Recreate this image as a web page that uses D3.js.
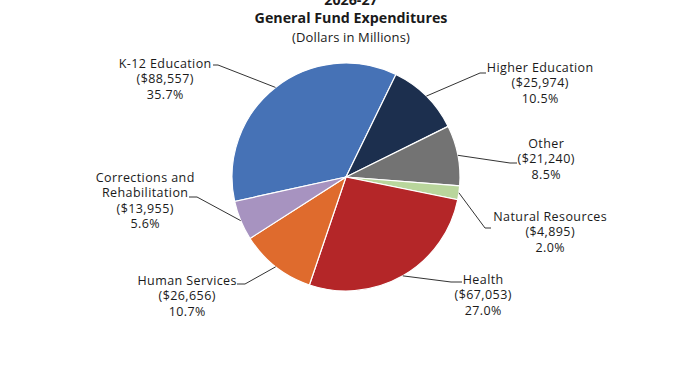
<!DOCTYPE html>
<html><head><meta charset="utf-8">
<script src="https://cdn.jsdelivr.net/npm/d3@7"></script>
<style>
html,body{margin:0;padding:0;background:#fff;}
svg{display:block;}
text{font-family:"Open Sans",sans-serif;fill:#1a1a1a;}
</style></head>
<body>
<script>
// ---- data ----
const categories = ["K-12 Education","Higher Education","Other","Natural Resources","Health","Human Services","Corrections and Rehabilitation"];
const values = [88557, 25974, 21240, 4895, 67053, 26656, 13955];
const percentLabels = ["35.7%","10.5%","8.5%","2.0%","27.0%","10.7%","5.6%"];
const titleLines = ["2026-27","General Fund Expenditures","(Dollars in Millions)"];

// ---- layout / style ----
const W = 700, H = 368;
const cx = 346, cy = 177, R = 114;
const colors = ["#4672b6","#1c2f4e","#737373","#b9d69c","#b42628","#df6b2d","#a793c0"];
const startDeg = -102.4;
const labelLayout = [
  {lines:["K-12 Education"], x:165, y:63, p0:[213,65], p1:[218,65]},
  {lines:["Higher Education"], x:540, y:67, p0:[486,73], p1:[480,73]},
  {lines:["Other"], x:546, y:143, p0:[517,163], p1:[510,163]},
  {lines:["Natural Resources"], x:550, y:216, p0:[491,228], p1:[485,228]},
  {lines:["Health"], x:483, y:279, p0:[462,282], p1:[451,282]},
  {lines:["Human Services"], x:187, y:280, p0:[237,284], p1:[245,284]},
  {lines:["Corrections and","Rehabilitation"], x:145, y:177, p0:[189,197], p1:[197,197]}
];
const lineH = 15.6;
const labelSize = 12.5;
const fmt = d3.format(",");

const svg = d3.select("body").append("svg").attr("width",W).attr("height",H);

function measure(str, weight, size){
  const t = svg.append("text").style("font-size",size+"px").style("font-weight",weight).text(str);
  const w = t.node().getComputedTextLength();
  t.remove();
  return w;
}
// letter spacing so sample strings reach the reference widths
const labelLS = (93 - measure("K-12 Education","normal",labelSize)) / 14;
const titleSize = 15 * 193 / measure("General Fund Expenditures","bold",15);
const subLS = (118 - measure("(Dollars in Millions)","normal",13)) / 21;

// title
const title = svg.append("g");
title.append("text").attr("x",351).attr("y",5).attr("text-anchor","middle")
  .style("font-weight","bold").style("font-size",titleSize+"px").text(titleLines[0]);
title.append("text").attr("x",351).attr("y",23).attr("text-anchor","middle")
  .style("font-weight","bold").style("font-size",titleSize+"px").text(titleLines[1]);
title.append("text").attr("x",351).attr("y",42).attr("text-anchor","middle")
  .style("font-size","13px").style("letter-spacing",subLS+"px").text(titleLines[2]);

const data = categories.map((c,i)=>({cat:c, value:values[i], pct:percentLabels[i], i}));
const start = startDeg*Math.PI/180;
const pie = d3.pie().value(d=>d.value).sort(null).startAngle(start).endAngle(start+2*Math.PI);
const arcs = pie(data);
const arc = d3.arc().innerRadius(0).outerRadius(R);

const g = svg.append("g").attr("transform",`translate(${cx},${cy})`);
g.selectAll("path").data(arcs).join("path")
  .attr("d",arc).attr("fill",d=>colors[d.data.i])
  .attr("stroke","#fff").attr("stroke-width",1.2);

// leader lines
const line = d3.line();
arcs.forEach(a=>{
  const L = labelLayout[a.data.i];
  const mid = (a.startAngle+a.endAngle)/2;
  const pe = [cx + R*Math.sin(mid), cy - R*Math.cos(mid)];
  svg.append("path").attr("d", line([L.p0, L.p1, pe]))
    .attr("fill","none").attr("stroke","#333").attr("stroke-width",1);
});

// labels
arcs.forEach(a=>{
  const L = labelLayout[a.data.i];
  const lines = L.lines.concat(["($"+fmt(a.data.value)+")", a.data.pct]);
  const t = svg.append("text").attr("text-anchor","middle")
    .style("font-size",labelSize+"px").style("letter-spacing",labelLS+"px");
  lines.forEach((s,k)=>{
    t.append("tspan").attr("x",L.x + labelLS/2).attr("y",L.y + k*lineH + labelSize*0.36).text(s);
  });
});
</script>
</body></html>
